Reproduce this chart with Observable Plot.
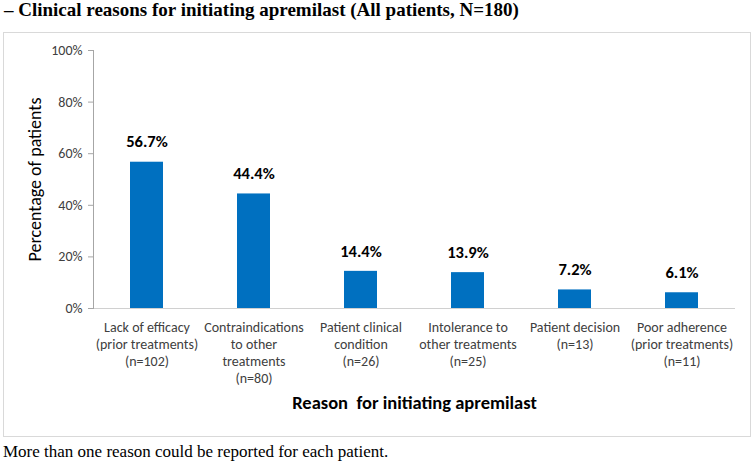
<!DOCTYPE html>
<html>
<head>
<meta charset="utf-8">
<script src="https://cdn.jsdelivr.net/npm/d3@7"></script>
<script src="https://cdn.jsdelivr.net/npm/@observablehq/plot@0.6"></script>
<style>
  html, body { margin: 0; padding: 0; background: #fff; }
  #page { position: relative; width: 755px; height: 471px; overflow: hidden; }
  #title { position: absolute; left: 4px; top: 0px; line-height: 20px; font-family: "Liberation Serif", "Times New Roman", serif; font-weight: bold; font-size: 19px; color: #000; white-space: nowrap; }
  #box { position: absolute; left: 3px; top: 32px; width: 746px; height: 403px; border: 1px solid #d9d9d9; }
  #foot { position: absolute; left: 3px; top: 443px; line-height: 18px; font-family: "Liberation Serif", "Times New Roman", serif; font-size: 17px; color: #000; white-space: nowrap; }
  svg text { white-space: pre; }
</style>
</head>
<body>
<div id="page">
  <div id="title">– Clinical reasons for initiating apremilast (All patients, N=180)</div>
  <div id="box"></div>
  <div id="foot">More than one reason could be reported for each patient.</div>
</div>
<script>
const categories = ["Lack of efficacy", "Contraindications", "Patient clinical condition", "Intolerance", "Patient decision", "Poor adherence"];
const tickLabels = [
  "Lack of efficacy\n(prior treatments)\n(n=102)",
  "Contraindications\nto other\ntreatments\n(n=80)",
  "Patient clinical\ncondition\n(n=26)",
  "Intolerance to\nother treatments\n(n=25)",
  "Patient decision\n(n=13)",
  "Poor adherence\n(prior treatments)\n(n=11)"
];
const values = [56.7, 44.4, 14.4, 13.9, 7.2, 6.1];
const yTicks = [0, 20, 40, 60, 80, 100];
const xTitle = "Reason  for initiating apremilast";
const yTitle = "Percentage of patients";

const data = categories.map((c, i) => ({category: c, value: values[i]}));
const labelOf = new Map(categories.map((c, i) => [c, tickLabels[i]]));
const font = "Carlito, Lato, 'Open Sans', sans-serif";

const chart = Plot.plot({
  width: 746,
  height: 403,
  marginLeft: 89,
  marginRight: 15,
  marginTop: 17,
  marginBottom: 128,
  style: {fontFamily: font, fontSize: "14px", background: "#fff", overflow: "visible"},
  x: {domain: categories, paddingInner: 0.69, paddingOuter: 0.345},
  y: {domain: [0, 100]},
  marks: [
    Plot.ruleY([0], {stroke: "#d0d0d0", strokeWidth: 1}),
    Plot.frame({anchor: "left", stroke: "#a6a6a6"}),
    Plot.axisY({ticks: yTicks, tickFormat: d => d + "%", tickSize: 5, tickPadding: 6, stroke: "#a6a6a6", fill: "#404040", fontSize: 14, label: null}),
    Plot.axisX({tickSize: 0, tickPadding: 11, tickFormat: d => labelOf.get(d), fill: "#404040", fontSize: 14, lineHeight: 1.22, label: null}),
    Plot.barY(data, {x: "category", y: "value", fill: "#0070C0"}),
    Plot.text(data, {x: "category", y: "value", text: d => d.value.toFixed(1) + "%", dy: -20, fontWeight: "bold", fontSize: 16.5, fill: "#000"}),
    Plot.text([xTitle], {frameAnchor: "bottom", dy: 100, fontWeight: "bold", fontSize: 18.5, fill: "#000"}),
    Plot.text([yTitle], {frameAnchor: "left", textAnchor: "middle", dx: -58, rotate: -90, fontSize: 18, fill: "#000"})
  ]
});
document.getElementById("box").appendChild(chart);
</script>
</body>
</html>
